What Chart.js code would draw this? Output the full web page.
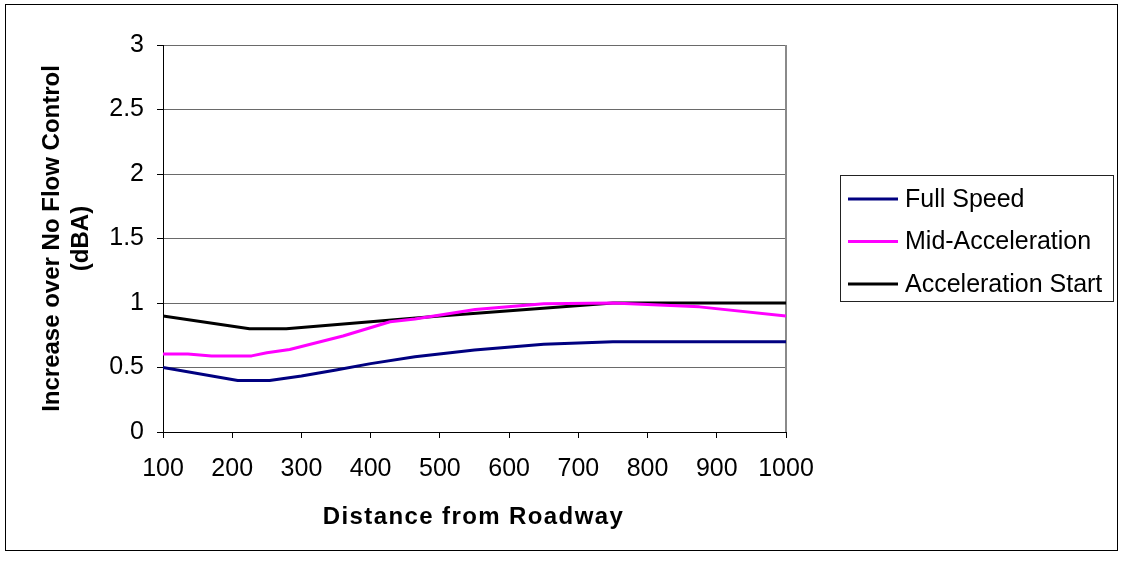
<!DOCTYPE html>
<html>
<head>
<meta charset="utf-8">
<script src="https://cdn.jsdelivr.net/npm/chart.js@4/dist/chart.umd.min.js"></script>
<style>
  html, body { margin: 0; padding: 0; background: #fff; }
  #wrap { position: relative; width: 1122px; height: 562px; }
</style>
</head>
<body>
<div id="wrap"><canvas id="c" width="1122" height="562"></canvas></div>
<script>
// Noise increase (dBA) versus distance from the roadway
const seriesLabels = ['Full Speed', 'Mid-Acceleration', 'Acceleration Start'];

const fullSpeedDist = [100, 208, 254, 300, 350, 400, 464, 550, 650, 750, 1000];
const fullSpeedDba  = [0.50, 0.40, 0.40, 0.434, 0.48, 0.53, 0.584, 0.636, 0.68, 0.70, 0.70];

const midAccelDist = [100, 136, 170, 228, 250, 283, 360, 428, 464, 551, 650, 750, 875, 1000];
const midAccelDba  = [0.605, 0.605, 0.59, 0.59, 0.615, 0.64, 0.744, 0.855, 0.876, 0.95, 0.995, 1.0, 0.97, 0.90];

const accelStartDist = [100, 225, 278, 500, 750, 1000];
const accelStartDba  = [0.90, 0.80, 0.80, 0.90, 1.00, 1.00];

const xTicks = [100, 200, 300, 400, 500, 600, 700, 800, 900, 1000];
const yTicks = [0, 0.5, 1, 1.5, 2, 2.5, 3];

const xTitle = 'Distance from Roadway';
const yTitle = ['Increase over No Flow Control', '(dBA)'];

const seriesColors = ['#000080', '#ff00ff', '#000000'];

function toPoints(xs, ys) {
  return xs.map((x, i) => ({ x: x, y: ys[i] }));
}

const FONT = "'Liberation Sans', Arial, sans-serif";
Chart.defaults.font.family = FONT;
Chart.defaults.color = '#000';

// outer frame, right edge of the plot area and the spaced x-axis title
const framePlugin = {
  id: 'frame',
  beforeDatasetsDraw(chart) {
    const { ctx, chartArea } = chart;
    ctx.save();
    ctx.strokeStyle = '#8a8a8a';
    ctx.lineWidth = 2;
    ctx.beginPath();
    ctx.moveTo(chartArea.right, chartArea.top);
    ctx.lineTo(chartArea.right, chartArea.bottom);
    ctx.stroke();
    ctx.restore();
  },
  afterDraw(chart) {
    const { ctx, chartArea } = chart;
    ctx.save();
    ctx.strokeStyle = '#000';
    ctx.lineWidth = 1;
    ctx.strokeRect(5.5, 4.5, 1112, 546);

    ctx.fillStyle = '#000';
    ctx.font = 'bold 24px ' + FONT;
    ctx.letterSpacing = '1.4px';
    ctx.textAlign = 'center';
    ctx.textBaseline = 'middle';
    ctx.fillText(xTitle, (chartArea.left + chartArea.right) / 2 - 1, 517);
    ctx.restore();
  }
};

// boxed legend on the right
const boxLegend = {
  id: 'boxLegend',
  afterDraw(chart) {
    const ctx = chart.ctx;
    ctx.save();
    ctx.strokeStyle = '#222';
    ctx.lineWidth = 1;
    ctx.strokeRect(840.5, 175.5, 273, 126);
    chart.data.datasets.forEach((ds, i) => {
      const y = 199 + i * 42.5;
      ctx.strokeStyle = ds.borderColor;
      ctx.lineWidth = 3;
      ctx.beginPath();
      ctx.moveTo(848, y);
      ctx.lineTo(898, y);
      ctx.stroke();
      ctx.fillStyle = '#000';
      ctx.font = '25px ' + FONT;
      ctx.textBaseline = 'middle';
      ctx.textAlign = 'left';
      ctx.fillText(ds.label, 905, y + 1);
    });
    ctx.restore();
  }
};

const seriesData = [
  toPoints(fullSpeedDist, fullSpeedDba),
  toPoints(midAccelDist, midAccelDba),
  toPoints(accelStartDist, accelStartDba)
];

new Chart(document.getElementById('c'), {
  type: 'line',
  data: {
    datasets: seriesLabels.map((label, i) => ({
      label: label,
      data: seriesData[i],
      borderColor: seriesColors[i],
      backgroundColor: seriesColors[i],
      borderWidth: 3,
      pointRadius: 0,
      tension: 0,
      fill: false,
      borderJoinStyle: 'round'
    }))
  },
  options: {
    responsive: false,
    animation: false,
    devicePixelRatio: 1,
    layout: { padding: { left: 0, top: 45, right: 336, bottom: 0 } },
    plugins: {
      legend: { display: false },
      tooltip: { enabled: false }
    },
    scales: {
      x: {
        type: 'linear',
        min: xTicks[0],
        max: xTicks[xTicks.length - 1],
        afterBuildTicks(scale) { scale.ticks = xTicks.map(v => ({ value: v })); },
        ticks: {
          color: '#000', font: { size: 25 }, padding: 16, maxRotation: 0, autoSkip: false,
          callback: v => String(v)
        },
        grid: { drawOnChartArea: false, tickLength: 6, color: '#000' },
        border: { color: '#000', width: 1 },
        afterFit(scale) { scale.height = 130; }
      },
      y: {
        min: yTicks[0],
        max: yTicks[yTicks.length - 1],
        afterBuildTicks(scale) { scale.ticks = yTicks.map(v => ({ value: v })); },
        ticks: { color: '#000', font: { size: 25 }, padding: 13, callback: v => String(v) },
        grid: { color: '#6a6a6a', lineWidth: 1, tickLength: 6, tickColor: '#000' },
        border: { color: '#000', width: 1 },
        title: {
          display: true,
          text: yTitle,
          color: '#000',
          font: { size: 24, weight: 'bold' },
          padding: { top: 38, bottom: 0 }
        },
        afterFit(scale) { scale.width = 163; }
      }
    }
  },
  plugins: [framePlugin, boxLegend]
});
</script>
</body>
</html>
